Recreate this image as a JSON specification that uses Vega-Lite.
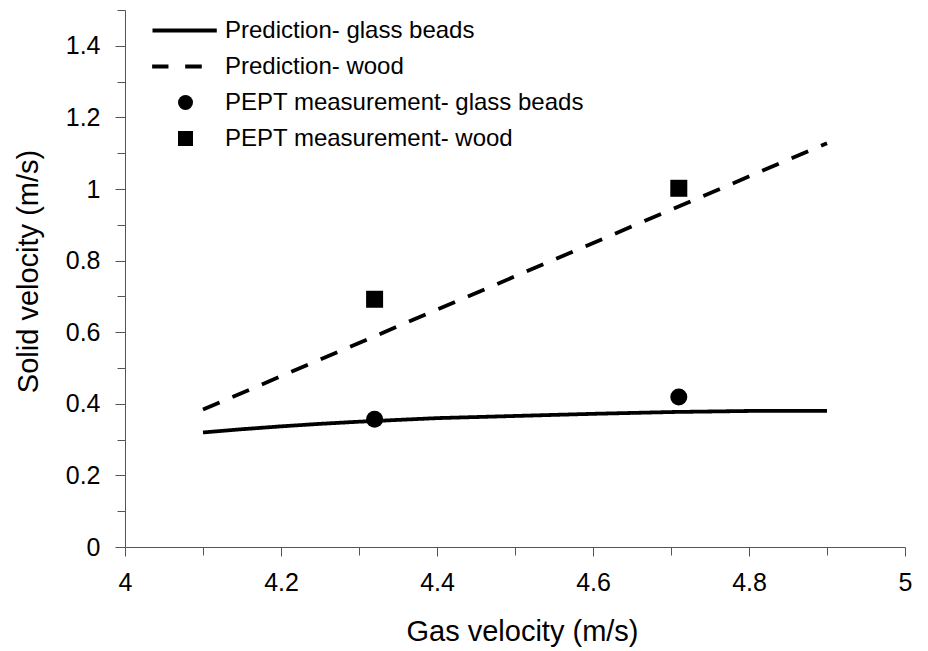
{
  "$schema": "https://vega.github.io/schema/vega-lite/v6.json",
  "width": 780,
  "height": 537,
  "autosize": {"type": "none"},
  "padding": {"left": 125, "top": 10, "right": 23, "bottom": 104},
  "background": "white",
  "config": {
    "view": {"stroke": null},
    "font": "Liberation Sans",
    "axis": {
      "grid": false,
      "domainColor": "#555555",
      "domainWidth": 1,
      "tickColor": "#555555",
      "tickWidth": 1,
      "labelFont": "Liberation Sans",
      "labelFontSize": 25,
      "labelColor": "black",
      "titleFont": "Liberation Sans",
      "titleFontSize": 29,
      "titleFontWeight": "normal",
      "titleColor": "black"
    }
  },
  "datasets": {
    "prediction": [
      {"series": "Prediction- glass beads", "gas": 4.1, "solid": 0.32},
      {"series": "Prediction- glass beads", "gas": 4.15, "solid": 0.329},
      {"series": "Prediction- glass beads", "gas": 4.2, "solid": 0.337},
      {"series": "Prediction- glass beads", "gas": 4.25, "solid": 0.344},
      {"series": "Prediction- glass beads", "gas": 4.3, "solid": 0.35},
      {"series": "Prediction- glass beads", "gas": 4.35, "solid": 0.355},
      {"series": "Prediction- glass beads", "gas": 4.4, "solid": 0.36},
      {"series": "Prediction- glass beads", "gas": 4.5, "solid": 0.366},
      {"series": "Prediction- glass beads", "gas": 4.6, "solid": 0.372},
      {"series": "Prediction- glass beads", "gas": 4.7, "solid": 0.377},
      {"series": "Prediction- glass beads", "gas": 4.8, "solid": 0.38},
      {"series": "Prediction- glass beads", "gas": 4.9, "solid": 0.38},
      {"series": "Prediction- wood", "gas": 4.1, "solid": 0.384},
      {"series": "Prediction- wood", "gas": 4.9, "solid": 1.128}
    ],
    "measurement": [
      {"series": "PEPT measurement- glass beads", "gas": 4.32, "solid": 0.357},
      {"series": "PEPT measurement- glass beads", "gas": 4.71, "solid": 0.419},
      {"series": "PEPT measurement- wood", "gas": 4.32, "solid": 0.692},
      {"series": "PEPT measurement- wood", "gas": 4.71, "solid": 1.002}
    ]
  },
  "encoding": {
    "x": {
      "field": "gas",
      "type": "quantitative",
      "title": "Gas velocity (m/s)",
      "scale": {"domain": [4, 5], "nice": false, "zero": false},
      "axis": {
        "values": [4, 4.1, 4.2, 4.3, 4.4, 4.5, 4.6, 4.7, 4.8, 4.9, 5],
        "labelExpr": "round(datum.value*10)%2==0 ? format(datum.value,'~g') : ''",
        "tickSize": {"condition": {"test": "round(datum.value*10)%2==0", "value": 9}, "value": 8},
        "labelPadding": 14,
        "labelFlush": false,
        "labelOverlap": false,
        "titlePadding": 22,
        "titleX": 397
      }
    },
    "y": {
      "field": "solid",
      "type": "quantitative",
      "title": "Solid velocity (m/s)",
      "scale": {"domain": [0, 1.5], "nice": false},
      "axis": {
        "values": [0, 0.1, 0.2, 0.3, 0.4, 0.5, 0.6, 0.7, 0.8, 0.9, 1, 1.1, 1.2, 1.3, 1.4, 1.5],
        "labelExpr": "round(datum.value*10)%2==0 ? format(datum.value,'~g') : ''",
        "tickSize": {"condition": {"test": "round(datum.value*10)%2==0", "value": 10}, "value": 8},
        "labelPadding": 15,
        "labelFlush": false,
        "labelOverlap": false,
        "titlePadding": 22,
        "titleY": 261
      }
    }
  },
  "layer": [
    {
      "data": {"name": "prediction"},
      "mark": {"type": "line", "color": "black", "strokeWidth": 3.8, "strokeCap": "butt"},
      "encoding": {
        "strokeDash": {
          "field": "series",
          "type": "nominal",
          "scale": {"domain": ["Prediction- glass beads", "Prediction- wood"], "range": [[1, 0], [18, 14]]},
          "legend": null
        }
      }
    },
    {
      "data": {"name": "measurement"},
      "mark": {"type": "point", "filled": true, "color": "black", "opacity": 1, "size": 289},
      "encoding": {
        "shape": {
          "field": "series",
          "type": "nominal",
          "scale": {
            "domain": ["Prediction- glass beads", "Prediction- wood", "PEPT measurement- glass beads", "PEPT measurement- wood"],
            "range": [
              "M-4.4,-0.27H4.17V0.27H-4.4Z",
              "M-4.45,-0.27H-2.27V0.27H-4.45ZM-0.04,-0.27H2.17V0.27H-0.04Z",
              "circle",
              "square"
            ]
          },
          "legend": {
            "title": null,
            "orient": "none",
            "legendX": 48.5,
            "legendY": 8.5,
            "padding": 0,
            "symbolSize": 225,
            "symbolType": "circle",
            "labelFont": "Liberation Sans",
            "labelFontSize": 24,
            "labelColor": "black",
            "labelOffset": 27.5,
            "labelLimit": 600,
            "rowPadding": 12,
            "encode": {
              "symbols": {
                "update": {
                  "size": {"value": 225},
                  "fill": {"value": "black"},
                  "stroke": {"value": "transparent"},
                  "strokeWidth": {"value": 0},
                  "opacity": {"value": 1}
                }
              }
            }
          }
        }
      }
    }
  ]
}
